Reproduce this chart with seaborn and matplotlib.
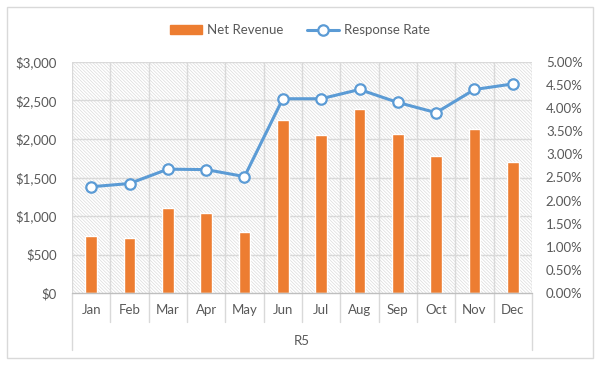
import numpy as np
import pandas as pd
import matplotlib
matplotlib.use("Agg")
import matplotlib.pyplot as plt
import matplotlib.patches as mpatches
from matplotlib.lines import Line2D
from matplotlib.ticker import FuncFormatter
import seaborn as sns

# data
months = ["Jan", "Feb", "Mar", "Apr", "May", "Jun",
          "Jul", "Aug", "Sep", "Oct", "Nov", "Dec"]
net_revenue = [740, 720, 1100, 1035, 790, 2250, 2050, 2390, 2065, 1780, 2125, 1700]
response_rate = [2.30, 2.37, 2.68, 2.67, 2.52, 4.20, 4.20, 4.40, 4.12, 3.90, 4.40, 4.52]
group_label = "R5"

ORANGE = "#ED7D31"
BLUE = "#5B9BD5"
GRID = "#d9d9d9"
TEXT = "#595959"
FS = 9.5

sns.set_theme(style="white")
plt.rcParams["font.family"] = ["Lato", "DejaVu Sans"]
plt.rcParams["hatch.color"] = "#dcdcdc"
plt.rcParams["hatch.linewidth"] = 0.5

df = pd.DataFrame({"month": months, "revenue": net_revenue, "rate": response_rate})

fig = plt.figure(figsize=(6, 3.65), dpi=100)
fig.patch.set_facecolor("white")
ax = fig.add_axes([72 / 600, 1 - 293.3 / 365, 460 / 600, 231.6 / 365])

# hatched plot area
ax.add_patch(mpatches.Rectangle((0, 0), 1, 1, transform=ax.transAxes,
                                facecolor="white", edgecolor="#dcdcdc",
                                hatch="\\" * 10, lw=0, zorder=0))

sns.barplot(data=df, x="month", y="revenue", color=ORANGE, width=0.3,
            saturation=1, ax=ax, zorder=3)
ax.set_xlim(-0.5, 11.5)
ax.set_ylim(0, 3000)
ax.set_yticks(np.arange(0, 3001, 500))
ax.yaxis.set_major_formatter(FuncFormatter(lambda v, p: f"${v:,.0f}"))
ax.set_xlabel("")
ax.set_ylabel("")
for s in ax.spines.values():
    s.set_visible(False)

# gridlines
for v in np.arange(500, 3001, 500):
    ax.axhline(v, color=GRID, lw=1, zorder=1)
ax.axhline(0, color="#bfbfbf", lw=1, zorder=4, clip_on=False)
trans = ax.get_xaxis_transform()
bounds = np.arange(-0.5, 12, 1)
for b in bounds:
    ax.plot([b, b], [0, 1], transform=trans, color=GRID, lw=1, zorder=1)
    low = -0.245 if b in (-0.5, 11.5) else -0.124
    ax.plot([b, b], [low, 0], transform=trans, color=GRID, lw=1,
            clip_on=False, zorder=1)

ax.tick_params(axis="x", length=0, pad=8, labelsize=FS, labelcolor=TEXT)
ax.tick_params(axis="y", length=0, pad=11, labelsize=FS, labelcolor=TEXT)
ax.text(5.5, -0.205, group_label, transform=trans, ha="center", va="center",
        fontsize=FS, color=TEXT)

# response rate on the secondary axis
ax2 = ax.twinx()
sns.lineplot(x=np.arange(len(months)), y=response_rate, ax=ax2, color=BLUE,
             lw=2.2, marker="o", markersize=7.5, markerfacecolor="white",
             markeredgecolor=BLUE, markeredgewidth=1.6, zorder=5)
ax2.set_ylim(0, 5)
ax2.set_yticks(np.arange(0, 5.01, 0.5))
ax2.yaxis.set_major_formatter(FuncFormatter(lambda v, p: f"{v:.2f}%"))
ax2.tick_params(axis="y", length=0, pad=10, labelsize=FS, labelcolor=TEXT)
for s in ax2.spines.values():
    s.set_visible(False)
ax2.set_ylabel("")

# legend
handles = [
    mpatches.Patch(facecolor=ORANGE, edgecolor=ORANGE, label="Net Revenue"),
    Line2D([0], [0], color=BLUE, lw=2.2, marker="o", markersize=7.5,
           markerfacecolor="white", markeredgecolor=BLUE,
           markeredgewidth=1.6, label="Response Rate"),
]
leg = fig.legend(handles=handles, loc="center", bbox_to_anchor=(0.5, 1 - 30 / 365),
                 ncol=2, frameon=False, fontsize=FS, handlelength=2.4,
                 handleheight=0.6, columnspacing=1.8, handletextpad=0.4)
for t in leg.get_texts():
    t.set_color(TEXT)

# outer chart border
fig.add_artist(mpatches.Rectangle((7 / 600, 7 / 365), 586 / 600, 351 / 365,
                                  transform=fig.transFigure, fill=False,
                                  edgecolor="#d9d9d9", lw=1))

fig.savefig("out.png", dpi=100, facecolor="white")
